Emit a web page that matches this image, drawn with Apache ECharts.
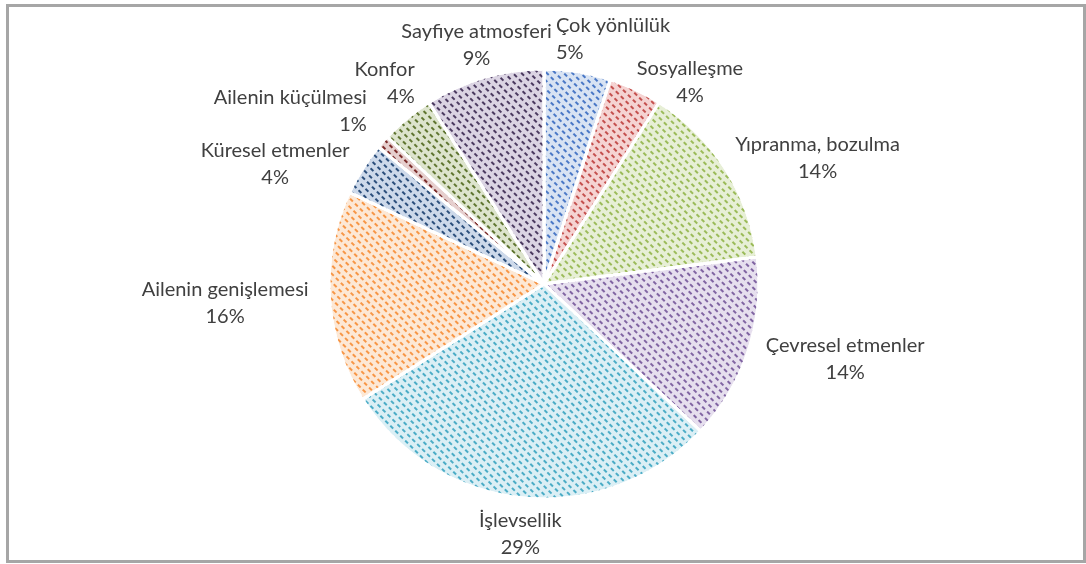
<!DOCTYPE html>
<html>
<head>
<meta charset="utf-8">
<script src="https://cdn.jsdelivr.net/npm/echarts@6/dist/echarts.min.js"></script>
<style>
  html, body { margin: 0; padding: 0; background: #fff; }
  #frame { position: absolute; left: 6px; top: 4px; width: 1074px; height: 553px; border: 3px solid #a6a6a6; }
  #chart { position: absolute; left: 0; top: 0; width: 1086px; height: 564px; }
</style>
</head>
<body>
<div id="frame"></div>
<div id="chart"></div>
<script>
  // slices clockwise from 12 o'clock
  const categories = ['Çok yönlülük', 'Sosyalleşme', 'Yıpranma, bozulma', 'Çevresel etmenler', 'İşlevsellik',
    'Ailenin genişlemesi', 'Küresel etmenler', 'Ailenin küçülmesi', 'Konfor', 'Sayfiye atmosferi'];
  const percents = [5, 4, 14, 14, 29, 16, 4, 1, 4, 9];

  // light fill + darker pattern colour per slice
  const fills = ['#d8e3f3', '#f5d3d2', '#e7efd6', '#e6dfee', '#dbeff5', '#fde8d5', '#cdd9ea', '#e6cfce', '#dde4cd', '#dbd4e3'];
  const inks  = ['#4a78c6', '#c4504e', '#9bbb59', '#8064a2', '#4bacc6', '#f79646', '#2c4f7c', '#7b2c2a', '#5f7530', '#4b3a60'];

  // label text alignment and hand nudges (the source labels were moved by hand)
  const labelAlign = ['left', 'center', 'center', 'center', 'center', 'center', 'center', 'right', 'right', 'center'];
  const labelNudge = [[24, 10], [25, 31], [9, 12], [6, -5], [2, -7], [-5, 3], [-11, 18], [-23, -2], [7, -2], [18, 9]];

  const CX = 544, CY = 284, R = 215, LABEL_R = 231;
  const total = percents.reduce((s, v) => s + v, 0);
  // mid angle of each slice, clockwise from top (radians)
  const midAngles = [];
  percents.reduce((acc, v) => { midAngles.push((acc + v / 2) / total * Math.PI * 2); return acc + v; }, 0);

  const chart = echarts.init(document.getElementById('chart'), null, { renderer: 'canvas' });

  chart.setOption({
    animation: false,
    series: [{
      type: 'pie',
      center: [CX, CY],
      radius: R,
      startAngle: 90,
      clockwise: true,
      avoidLabelOverlap: false,
      itemStyle: { borderColor: '#fff', borderWidth: 3 },
      label: {
        position: 'outside',
        formatter: p => `${p.name}\n${p.value}%`,
        fontFamily: 'Lato',
        fontSize: 20,
        lineHeight: 27,
        color: '#404040'
      },
      labelLine: { show: false },
      // label box edge touches a circle just outside the pie, then nudged
      labelLayout: params => {
        const i = params.dataIndex;
        const a = midAngles[i];
        const w = params.labelRect.width, h = params.labelRect.height;
        const cx = CX + LABEL_R * Math.sin(a) + Math.sin(a) * w / 2 + labelNudge[i][0];
        const cy = CY - LABEL_R * Math.cos(a) - Math.cos(a) * h / 2 + labelNudge[i][1];
        const align = labelAlign[i];
        const x = align === 'left' ? cx - w / 2 : align === 'right' ? cx + w / 2 : cx;
        return { x, y: cy, align, verticalAlign: 'middle' };
      },
      emphasis: { disabled: true },
      data: categories.map((name, i) => ({
        name,
        value: percents[i],
        itemStyle: {
          color: fills[i],
          decal: {
            symbol: 'rect',
            color: inks[i],
            dashArrayX: [[4, 3], [0, 3, 4, 0]],
            dashArrayY: [2, 4],
            rotation: Math.PI / 4,
            symbolSize: 1
          }
        }
      }))
    }]
  });
</script>
</body>
</html>
